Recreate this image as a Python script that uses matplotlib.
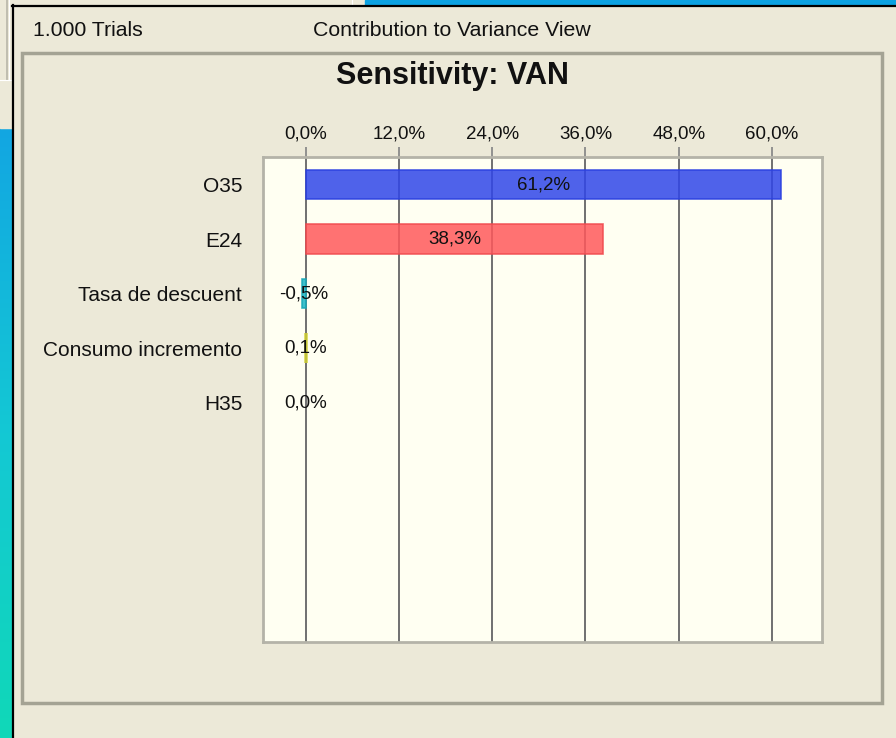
import numpy as np
import matplotlib.pyplot as plt
from matplotlib.patches import Rectangle
from matplotlib.ticker import FuncFormatter

plt.rcParams['font.family'] = ['Liberation Sans', 'DejaVu Sans']

# data
variables = ["O35", "E24", "Tasa de descuent", "Consumo incremento", "H35"]
contribution = [61.2, 38.3, -0.5, 0.1, 0.0]
bar_colors = ["#3046e9", "#ff595c", "#1cb4c4", "#d4d430", "#999999"]
edge_colors = ["#2a40e0", "#f04a4e", "#18a8b8", "#d0d030", "#999999"]
x_ticks = [0, 12, 24, 36, 48, 60]

BEIGE = "#ece9d8"
W, H = 896, 738

def pct(v):
  return ("%.1f%%" % v).replace(".", ",")

fig = plt.figure(figsize=(W/100, H/100), dpi=100)
fig.patch.set_facecolor(BEIGE)

# background in pixel coordinates (window chrome around the chart)
bg = fig.add_axes([0, 0, 1, 1])
bg.set_xlim(0, W)
bg.set_ylim(H, 0)
bg.axis("off")
grad = np.linspace(0, 1, 256).reshape(-1, 1)
cmap = plt.matplotlib.colors.LinearSegmentedColormap.from_list("desk", ["#12a6e2", "#14c8d4", "#10d8b8"])
bg.imshow(grad, cmap=cmap, extent=(0, 12, H, 128), aspect="auto", zorder=1)
bg.add_patch(Rectangle((365, 0), W-365, 5, color="#0ca2e2", zorder=1))
bg.add_patch(Rectangle((0, 0), 12, 128, color=BEIGE, zorder=1))
bg.plot([7, 7], [0, 80], color="#b8b6a8", lw=1.2, zorder=2)
bg.plot([9, 9], [0, 80], color="white", lw=0.8, zorder=2)
bg.plot([0, 12], [80, 80], color="white", lw=0.8, zorder=2)
bg.plot([352, 352], [0, 5], color="white", lw=0.8, zorder=2)
bg.plot([12.5, 12.5], [5, H], color="black", lw=1.6, zorder=3)
bg.plot([12, W], [5.5, 5.5], color="black", lw=1.6, zorder=3)
bg.add_patch(Rectangle((22, 53), 860, 650, fill=False, ec="#a4a394", lw=2.5, zorder=2))

bg.text(33, 30, "1.000 Trials", fontsize=15.3, ha="left", va="center", color="#111111")
bg.text(452, 30, "Contribution to Variance View", fontsize=15.3, ha="center", va="center", color="#111111")
bg.text(452, 76, "Sensitivity: VAN", fontsize=22, fontweight="bold", ha="center", va="center", color="#111111")

# chart
ax = fig.add_axes([263/W, 1-642/H, (822-263)/W, (642-157)/H])
ax.set_facecolor("#fffff2")
rows = np.arange(len(variables))
ax.barh(rows, contribution, height=0.54, color=bar_colors, edgecolor=edge_colors,
        linewidth=[1.2, 1.2, 1.2, 2.6, 0], alpha=0.85, zorder=3)
for r, v in zip(rows, contribution):
  ax.text(v/2, r, pct(v), ha="center", va="center", fontsize=13.5, color="#111111", zorder=5)

ax.set_xlim(-5.47, 66.43)
ax.set_ylim(8.39, -0.505)
ax.set_xticks(x_ticks)
ax.xaxis.set_major_formatter(FuncFormatter(lambda v, p: pct(v)))
ax.xaxis.tick_top()
ax.tick_params(axis="x", length=7.5, width=1.3, color="#8a8a8a", pad=3, labelsize=13.5, labelcolor="#111111")
ax.set_yticks(rows)
ax.set_yticklabels(variables)
ax.tick_params(axis="y", length=0, pad=15, labelsize=15, labelcolor="#111111")
ax.grid(axis="x", color="#707070", lw=1.4, zorder=1)
ax.set_axisbelow(True)
for s in ax.spines.values():
  s.set_color("#b4b3a8")
  s.set_linewidth(2)

plt.savefig("out.png", dpi=100, facecolor=fig.get_facecolor())
